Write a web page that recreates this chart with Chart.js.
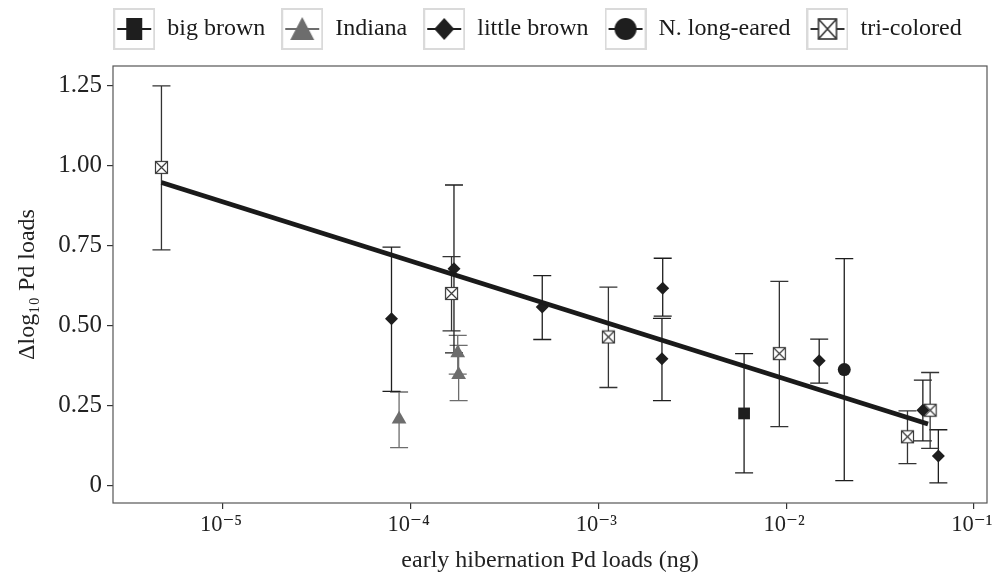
<!DOCTYPE html>
<html>
<head>
<meta charset="utf-8">
<script src="https://cdn.jsdelivr.net/npm/chart.js@4.4.0/dist/chart.umd.min.js"></script>
<style>
	html, body { margin: 0; padding: 0; background: #fff; }
</style>
</head>
<body>
<canvas id="myChart" width="992" height="575"></canvas>
<script>
// Dades llegides del gràfic (x en ng, y = Δlog10)
const bigBrownX = [5.97e-3];
const bigBrownY = [0.226];
const bigBrownLo = [0.040];
const bigBrownHi = [0.413];

const indianaX = [8.67e-5, 1.78e-4, 1.80e-4];
const indianaY = [0.208, 0.415, 0.347];
const indianaLo = [0.119, 0.349, 0.266];
const indianaHi = [0.293, 0.470, 0.439];

const littleBrownX = [7.9e-5, 1.70e-4, 5.02e-4, 2.20e-3, 2.18e-3, 1.50e-2, 5.35e-2, 6.47e-2];
const littleBrownY = [0.522, 0.678, 0.559, 0.617, 0.397, 0.391, 0.236, 0.093];
const littleBrownLo = [0.295, 0.415, 0.457, 0.530, 0.266, 0.321, 0.140, 0.009];
const littleBrownHi = [0.746, 0.940, 0.657, 0.711, 0.523, 0.458, 0.330, 0.175];

const longEaredX = [2.04e-2];
const longEaredY = [0.363];
const longEaredLo = [0.016];
const longEaredHi = [0.710];

const triColoredX = [4.7e-6, 1.65e-4, 1.13e-3, 9.2e-3, 4.43e-2, 5.85e-2];
const triColoredY = [0.995, 0.601, 0.465, 0.413, 0.153, 0.236];
const triColoredLo = [0.737, 0.484, 0.307, 0.185, 0.069, 0.117];
const triColoredHi = [1.250, 0.716, 0.621, 0.639, 0.234, 0.354];

// recta de regressió
const fitX = [4.7e-6, 5.7e-2];
const fitY = [0.948, 0.193];

const speciesNames = ['big brown', 'Indiana', 'little brown', 'N. long-eared', 'tri-colored'];
const xTickValues = [1e-5, 1e-4, 1e-3, 1e-2, 1e-1];
const xTickLabels = ['10\u207B\u2075', '10\u207B\u2074', '10\u207B\u00B3', '10\u207B\u00B2', '10\u207B\u00B9'];
const yTickValues = [0, 0.25, 0.5, 0.75, 1, 1.25];
const yTickLabels = ['0', '0.25', '0.50', '0.75', '1.00', '1.25'];

const dark = '#1e1e1e';
const grey = '#6d6d6d';
const serif = "'Liberation Serif', 'DejaVu Serif', serif";

function toPts(xs, ys) {
	return xs.map((x, i) => ({ x: x, y: ys[i] }));
}

// quadrat amb creu (tri-colored)
function boxX(g, x0, y0, w, h, color, lw) {
	g.fillStyle = '#fff';
	g.fillRect(x0, y0, w, h);
	g.strokeStyle = color;
	g.lineWidth = lw;
	g.strokeRect(x0, y0, w, h);
	g.beginPath();
	g.moveTo(x0, y0); g.lineTo(x0 + w, y0 + h);
	g.moveTo(x0 + w, y0); g.lineTo(x0, y0 + h);
	g.stroke();
}

function makeTriPoint() {
	const c = document.createElement('canvas');
	c.width = 15; c.height = 15;
	boxX(c.getContext('2d'), 1.5, 1.5, 12, 12, '#3a3a3a', 1.2);
	return c;
}

// símbols de la llegenda amb el requadre gris
function makeKey(shape, color) {
	const c = document.createElement('canvas');
	c.width = 42; c.height = 42;
	const g = c.getContext('2d');
	g.strokeStyle = '#dadada';
	g.lineWidth = 2;
	g.strokeRect(1, 1, 40, 40);
	g.strokeStyle = color;
	g.lineWidth = 2;
	g.beginPath(); g.moveTo(4, 21); g.lineTo(38, 21); g.stroke();
	g.fillStyle = color;
	g.beginPath();
	if (shape === 'square') {
		g.rect(13, 10, 16, 22);
	} else if (shape === 'triangle') {
		g.moveTo(21, 9); g.lineTo(33, 32); g.lineTo(9, 32); g.closePath();
	} else if (shape === 'diamond') {
		g.moveTo(21, 10); g.lineTo(31, 21); g.lineTo(21, 32); g.lineTo(11, 21); g.closePath();
	} else if (shape === 'circle') {
		g.arc(21, 21, 11, 0, Math.PI * 2);
	}
	g.fill();
	if (shape === 'boxx') boxX(g, 12, 11, 18, 20, color, 1.6);
	return c;
}

const keyImgs = [
	makeKey('square', dark),
	makeKey('triangle', grey),
	makeKey('diamond', dark),
	makeKey('circle', dark),
	makeKey('boxx', '#333')
];

// barres d'error
const errorBars = {
	id: 'errorBars',
	beforeDatasetsDraw(chart) {
		const ctx = chart.ctx;
		const ys = chart.scales.y;
		chart.data.datasets.forEach((ds, i) => {
			if (!ds.lo) return;
			const meta = chart.getDatasetMeta(i);
			ctx.save();
			ctx.strokeStyle = ds.barColor;
			ctx.lineWidth = 1.3;
			meta.data.forEach((pt, j) => {
				const yLo = ys.getPixelForValue(ds.lo[j]);
				const yHi = ys.getPixelForValue(ds.hi[j]);
				ctx.beginPath();
				ctx.moveTo(pt.x, yLo); ctx.lineTo(pt.x, yHi);
				ctx.moveTo(pt.x - 9, yLo); ctx.lineTo(pt.x + 9, yLo);
				ctx.moveTo(pt.x - 9, yHi); ctx.lineTo(pt.x + 9, yHi);
				ctx.stroke();
			});
			ctx.restore();
		});
	}
};

// marc del panell
const panelBox = {
	id: 'panelBox',
	beforeDatasetsDraw(chart) {
		const a = chart.chartArea;
		const ctx = chart.ctx;
		ctx.save();
		ctx.strokeStyle = '#555';
		ctx.lineWidth = 1.2;
		ctx.strokeRect(a.left, a.top, a.right - a.left, a.bottom - a.top);
		ctx.restore();
	}
};

// l'etiqueta 10^-1 no ha de reduir el panell per la dreta
const noXPadding = {
	id: 'noXPadding',
	beforeLayout(chart) {
		if (chart.scales.x) {
			chart.scales.x.getPadding = () => ({ left: 0, top: 0, right: 0, bottom: 0 });
		}
	}
};

// col·loca la llegenda com a l'original (més amunt i desplaçada)
const legendShift = {
	id: 'legendShift',
	afterLayout(chart) {
		const lg = chart.legend;
		lg.left += 88;
		lg.top -= 15;
		lg.bottom -= 15;
	}
};

function speciesSet(name, xs, ys, lo, hi, style, radius, color) {
	return {
		label: name,
		data: toPts(xs, ys),
		lo: lo,
		hi: hi,
		barColor: color,
		pointStyle: style,
		pointRadius: radius,
		pointHoverRadius: radius,
		backgroundColor: color,
		borderColor: color,
		borderWidth: 0,
		showLine: false
	};
}

const config = {
	type: 'scatter',
	data: {
		datasets: [
			speciesSet('big brown', bigBrownX, bigBrownY, bigBrownLo, bigBrownHi, 'rect', 8.3, dark),
			speciesSet('Indiana', indianaX, indianaY, indianaLo, indianaHi, 'triangle', 8.5, grey),
			speciesSet('little brown', littleBrownX, littleBrownY, littleBrownLo, littleBrownHi, 'rectRot', 6.5, dark),
			speciesSet('N. long-eared', longEaredX, longEaredY, longEaredLo, longEaredHi, 'circle', 6.5, dark),
			speciesSet('tri-colored', triColoredX, triColoredY, triColoredLo, triColoredHi, makeTriPoint(), 7, '#333'),
			{
				type: 'line',
				label: 'fit',
				data: toPts(fitX, fitY),
				showLine: true,
				borderColor: '#1a1a1a',
				borderWidth: 4.8,
				pointRadius: 0,
				fill: false,
				order: -1
			}
		]
	},
	options: {
		responsive: false,
		animation: false,
		devicePixelRatio: 1,
		layout: { autoPadding: false, padding: { left: 0, right: 5, top: 1, bottom: 0 } },
		plugins: {
			tooltip: { enabled: false },
			legend: {
				position: 'top',
				labels: {
					usePointStyle: true,
					pointStyleWidth: 42,
					padding: 16,
					color: '#1a1a1a',
					font: { family: serif, size: 24 },
					generateLabels: () => speciesNames.map((name, i) => ({
						text: name,
						pointStyle: keyImgs[i],
						fillStyle: 'rgba(0,0,0,0)',
						strokeStyle: 'rgba(0,0,0,0)',
						lineWidth: 0,
						hidden: false,
						datasetIndex: i,
						fontColor: '#1a1a1a'
					}))
				}
			}
		},
		scales: {
			x: {
				type: 'logarithmic',
				min: 2.594e-6,
				max: 0.1175,
				afterBuildTicks: (scale) => { scale.ticks = xTickValues.map(v => ({ value: v })); },
				afterFit: (scale) => { scale.height = 72; scale.paddingLeft = 0; scale.paddingRight = 0; },
				border: { display: false },
				grid: { drawOnChartArea: false, drawTicks: true, tickLength: 6, color: '#333', lineWidth: 1.2 },
				ticks: {
					autoSkip: false,
					maxRotation: 0,
					padding: 3,
					labelOffset: -2,
					color: '#222',
					font: { family: serif, size: 22.5 },
					callback: (v, i) => xTickLabels[i]
				},
				title: {
					display: true,
					text: 'early hibernation Pd loads (ng)',
					color: '#222',
					font: { family: serif, size: 24 },
					padding: { top: 0, bottom: 0 }
				}
			},
			y: {
				min: -0.054,
				max: 1.312,
				afterBuildTicks: (scale) => { scale.ticks = yTickValues.map(v => ({ value: v })); },
				// paddingTop deixa l'espai entre la llegenda i el panell
				afterFit: (scale) => { scale.width = 113; scale.paddingTop = 66; scale.paddingBottom = 0; },
				border: { display: false },
				grid: { drawOnChartArea: false, drawTicks: true, tickLength: 6, color: '#333', lineWidth: 1.2 },
				ticks: {
					autoSkip: false,
					padding: 5,
					color: '#222',
					font: { family: serif, size: 25 },
					callback: (v, i) => yTickLabels[i]
				},
				title: {
					display: true,
					text: '\u0394log\u2081\u2080 Pd loads',
					color: '#222',
					font: { family: serif, size: 24 },
					padding: { top: 13, bottom: 0 }
				}
			}
		}
	},
	plugins: [noXPadding, errorBars, panelBox, legendShift]
};

const myChart = new Chart(document.getElementById('myChart'), config);
</script>
</body>
</html>
